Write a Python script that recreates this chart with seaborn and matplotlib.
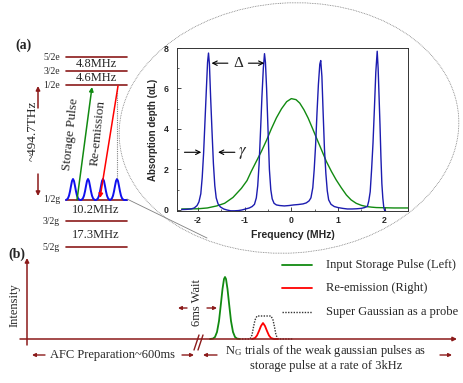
import matplotlib.pyplot as plt
import seaborn as sns
from matplotlib.patches import Ellipse
from matplotlib.ticker import MultipleLocator

sns.set_style("ticks")
plt.rcParams["mathtext.fontset"] = "stix"
plt.rcParams["axes.unicode_minus"] = False

SERIF = "Liberation Serif"
SANS = "Liberation Sans"
DARK_RED = "#8b1a1a"
BLUE = "#1c1cb0"
GREEN = "#118a11"
GREY = "#808080"

# ---- inset: AFC absorption spectrum ----
comb_freq = [-2.35, -2.25, -2.15, -2.08, -2.02, -1.98, -1.94, -1.91, -1.88, -1.85,
             -1.82, -1.795, -1.775, -1.755, -1.73, -1.70, -1.67, -1.64, -1.61, -1.57,
             -1.52, -1.45, -1.38, -1.30, -1.22, -1.14, -1.06, -0.98, -0.90, -0.84,
             -0.79, -0.75, -0.72, -0.69, -0.66, -0.63, -0.60, -0.575, -0.555, -0.53,
             -0.50, -0.47, -0.44, -0.41, -0.37, -0.32, -0.25, -0.15, -0.05, 0.05,
             0.15, 0.25, 0.32, 0.38, 0.42, 0.46, 0.49, 0.52, 0.55, 0.58,
             0.61, 0.63, 0.655, 0.68, 0.71, 0.74, 0.77, 0.80, 0.85, 0.92,
             1.00, 1.10, 1.20, 1.30, 1.40, 1.50, 1.57, 1.63, 1.66, 1.69,
             1.72, 1.75, 1.78, 1.81, 1.84, 1.86, 1.88, 1.90, 1.92, 1.94,
             1.96, 1.98, 2.00, 2.02]
comb_depth = [0.02, 0.03, 0.05, 0.10, 0.22, 0.40, 0.80, 1.6, 2.8, 4.4,
              6.0, 7.3, 7.75, 7.2, 5.6, 3.9, 2.3, 1.2, 0.60, 0.30,
              0.15, 0.05, 0.0, -0.04, -0.04, -0.03, 0.0, 0.05, 0.10, 0.17,
              0.28, 0.60, 1.2, 2.3, 3.9, 5.6, 7.0, 7.72, 7.3, 6.0,
              4.0, 2.0, 1.0, 0.55, 0.33, 0.25, 0.22, 0.20, 0.22, 0.25,
              0.27, 0.30, 0.35, 0.45, 0.60, 1.1, 2.0, 3.2, 4.8, 6.2,
              7.2, 7.38, 6.6, 4.9, 3.0, 1.8, 0.95, 0.50, 0.28, 0.17,
              0.12, 0.08, 0.05, 0.05, 0.06, 0.08, 0.12, 0.18, 0.45, 0.90,
              2.0, 3.3, 5.0, 6.8, 7.84, 7.0, 5.6, 4.2, 2.6, 1.3,
              0.60, 0.15, -0.03, -0.05]

pulse_freq = [-2.35, -2.0, -1.8, -1.6, -1.43, -1.25, -1.07, -0.95, -0.86, -0.75,
              -0.64, -0.53, -0.43, -0.32, -0.21, -0.10, 0.0, 0.10, 0.18, 0.27,
              0.36, 0.45, 0.54, 0.65, 0.75, 0.86, 0.96, 1.07, 1.18, 1.28,
              1.39, 1.50, 1.61, 1.72, 1.82, 2.0, 2.2, 2.5]
pulse_depth = [0.05, 0.06, 0.10, 0.20, 0.33, 0.62, 1.07, 1.45, 1.9, 2.4,
               2.9, 3.45, 4.0, 4.55, 5.0, 5.35, 5.5, 5.45, 5.28, 4.95,
               4.54, 4.05, 3.55, 2.95, 2.4, 1.9, 1.49, 1.1, 0.74, 0.50,
               0.33, 0.23, 0.17, 0.14, 0.12, 0.11, 0.10, 0.10]

# ---- level scheme ----
excited_levels = ["5/2e", "3/2e", "1/2e"]
ground_levels = ["1/2g", "3/2g", "5/2g"]
excited_split = ["4.8MHz", "4.6MHz"]
ground_split = ["10.2MHz", "17.3MHz"]
optical_label = "~494.7THz"

# one comb tooth of the prepared AFC (offset px, height px)
tooth_dx = [-7, -6, -5, -4, -3, -2, -1, 0, 1, 2, 3, 4, 5, 6, 7]
tooth_h = [0, 0.6, 1.8, 4.3, 8.6, 14, 19, 21, 19, 14, 8.6, 4.3, 1.8, 0.6, 0]

# ---- panel (b) pulse shapes (time offset px, intensity px) ----
input_dt = [-15, -12, -10, -8, -6, -4, -2.5, -1, 0, 1, 2.5, 4, 6, 8, 10, 12, 15]
input_h = [0, 0.4, 2, 7, 18, 36, 50, 60, 62, 60, 50, 36, 18, 7, 2, 0.4, 0]
echo_dt = [-11, -8, -6, -4, -2, 0, 2, 4, 6, 8, 11, 15]
echo_h = [0, 1, 3.5, 8, 13, 16, 13, 8, 3.5, 1, 0, 0]
probe_dt = [-22, -14, -12, -10.5, -9, -7, 7, 9, 10.5, 12, 14, 29]
probe_h = [0, 0, 4, 12, 19, 23, 23, 19, 12, 4, 0, 0]
legend_labels = ["Input Storage Pulse (Left)", "Re-emission (Right)",
                 "Super Gaussian as a probe"]

fig = plt.figure(figsize=(4.63, 3.83), dpi=100)
ax = fig.add_axes([0, 0, 1, 1])
ax.set_xlim(0, 463)
ax.set_ylim(383, 0)
ax.axis("off")


def arrow(x0, y0, x1, y1, color, lw=1.0, ms=7, style="-|>"):
    ax.annotate("", xy=(x1, y1), xytext=(x0, y0),
                arrowprops=dict(arrowstyle=style, color=color, lw=lw,
                                mutation_scale=ms, shrinkA=0, shrinkB=0))


# ---------------- panel (a): level diagram ----------------
ax.text(24, 45, "(a)", family=SERIF, fontsize=10, fontweight="bold", ha="center", va="center")
lx0, lx1 = 66, 127
for name, y in zip(excited_levels + ground_levels, [57, 71, 85, 200, 221, 247]):
    ax.plot([lx0, lx1], [y, y], color=DARK_RED, lw=1.2)
    ax.text(60, y, name, family=SERIF, fontsize=7, ha="right", va="center")
for lab, y in zip(excited_split + ground_split, [64, 78, 210, 235]):
    ax.text(96, y, lab, family=SERIF, fontsize=9, ha="center", va="center")

ax.text(33, 131, optical_label, family=SERIF, fontsize=9.5, rotation=90, ha="center", va="center")
arrow(38, 108, 38, 86, DARK_RED, lw=1.1, ms=6)
arrow(38, 174, 38, 196, DARK_RED, lw=1.1, ms=6)

arrow(77, 200, 92, 87, GREEN, lw=1.1, ms=6)
arrow(118, 86, 100, 198, "red", lw=1.1, ms=6)
ax.text(71, 134, "Storage Pulse", family=SERIF, fontsize=9.5, rotation=84, ha="center", va="center")
ax.text(98, 133, "Re-emission", family=SERIF, fontsize=9.5, rotation=84, ha="center", va="center")

comb_x, comb_y = [66], [200]
for c in [73, 88, 103, 117]:
    comb_x += [c + d for d in tooth_dx]
    comb_y += [200 - h for h in tooth_h]
comb_x.append(127)
comb_y.append(200)
ax.plot(comb_x, comb_y, color="#1010ee", lw=1.4)

# magnifier callout
ax.add_patch(Ellipse((289, 128), 340, 250, angle=-4, fill=False,
                     ls=(0, (1, 1)), lw=0.6, color=GREY))
ax.plot([117, 117], [86, 179], color=GREY, lw=0.8, ls=(0, (1, 1)))
ax.plot([127, 207], [199, 238], color=GREY, lw=0.6)

# ---------------- inset spectrum ----------------
ax_in = fig.add_axes([177 / 463, 1 - 211 / 383, 231 / 463, 163 / 383])
sns.lineplot(x=pulse_freq, y=pulse_depth, ax=ax_in, color=GREEN, lw=1.0, estimator=None)
sns.lineplot(x=comb_freq, y=comb_depth, ax=ax_in, color=BLUE, lw=1.0, estimator=None)
ax_in.set_xlim(-2.45, 2.5)
ax_in.set_ylim(-0.05, 8)
ax_in.set_xticks([-2, -1, 0, 1, 2])
ax_in.set_yticks([0, 2, 4, 6, 8])
ax_in.xaxis.set_minor_locator(MultipleLocator(0.5))
ax_in.yaxis.set_minor_locator(MultipleLocator(1))
ax_in.tick_params(which="major", direction="in", length=3, width=0.6, labelsize=6.3)
ax_in.tick_params(axis="y", which="major", pad=6)
ax_in.tick_params(axis="x", which="major", pad=3.5)
ax_in.tick_params(which="minor", direction="in", length=1.5, width=0.5)
plt.setp(ax_in.get_xticklabels() + ax_in.get_yticklabels(), fontweight="bold", family=SANS)
for sp in ax_in.spines.values():
    sp.set_linewidth(0.7)
    sp.set_color("#333333")
ax_in.set_xlabel("Frequency (MHz)", fontsize=7.5, fontweight="bold", family=SANS, labelpad=4)
ax_in.set_ylabel("Absorption depth (\u03b1L)", fontsize=7, fontweight="bold", family=SANS, labelpad=4)

kw = dict(arrowstyle="->", color="black", lw=0.8, mutation_scale=8, shrinkA=0, shrinkB=0)
ax_in.annotate("", xy=(-1.71, 7.25), xytext=(-1.36, 7.25), arrowprops=kw)
ax_in.annotate("", xy=(-0.58, 7.25), xytext=(-0.92, 7.25), arrowprops=kw)
ax_in.text(-1.14, 7.25, "\u0394", family=SERIF, fontsize=11, ha="center", va="center")
ax_in.annotate("", xy=(-1.93, 2.85), xytext=(-2.29, 2.85), arrowprops=kw)
ax_in.annotate("", xy=(-1.57, 2.85), xytext=(-1.21, 2.85), arrowprops=kw)
ax_in.text(-1.04, 2.85, r"$\gamma$", fontsize=12, ha="center", va="center")

# ---------------- panel (b): sequence ----------------
ax.text(17, 254, "(b)", family=SERIF, fontsize=10, fontweight="bold", ha="center", va="center")
base = 339
arrow(20, base, 457, base, DARK_RED, lw=1.1, ms=6)
arrow(27, 345, 27, 258, DARK_RED, lw=1.1, ms=6)
ax.text(15, 305, "Intensity", family=SERIF, fontsize=9, rotation=90, ha="center", va="center")
ax.plot([194, 199], [350, 335], color=DARK_RED, lw=1.0)
ax.plot([198, 203], [350, 335], color=DARK_RED, lw=1.0)

ax.plot([225 + d for d in input_dt], [base - h for h in input_h], color=GREEN, lw=1.3)
ax.plot([264 + d for d in probe_dt], [base - h for h in probe_h], color="#333333",
        lw=1.0, ls=(0, (1, 1)))
ax.plot([263 + d for d in echo_dt], [base - h for h in echo_h], color="red", lw=1.3)

ax.text(197, 303, "6ms Wait", family=SERIF, fontsize=9, rotation=90, ha="center", va="center")
arrow(187, 308, 178, 308, DARK_RED, lw=1.0, ms=5)
arrow(207, 308, 217, 308, DARK_RED, lw=1.0, ms=5)

for (lab, col, ls), y in zip(zip(legend_labels, [GREEN, "red", "#333333"],
                                 ["-", "-", (0, (1, 1))]), [265, 288, 312]):
    ax.plot([282, 312], [y, y], color=col, lw=1.3 if ls == "-" else 1.0, ls=ls)
    ax.text(326, y, lab, family=SERIF, fontsize=9, ha="left", va="center")

arrow(45, 355, 32, 355, DARK_RED, lw=1.0, ms=5)
ax.text(112, 355, "AFC Preparation~600ms", family=SERIF, fontsize=9, ha="center", va="center")
arrow(182, 355, 194, 355, DARK_RED, lw=1.0, ms=5)
arrow(217, 355, 203, 355, DARK_RED, lw=1.0, ms=5)
ax.text(326, 351, r"N$_\mathregular{G}$ trials of the weak gaussian pulses as", family=SERIF,
        fontsize=9, ha="center", va="center")
ax.text(326, 366, "storage pulse at a rate of 3kHz", family=SERIF, fontsize=9,
        ha="center", va="center")
arrow(440, 355, 452, 355, DARK_RED, lw=1.0, ms=5)

fig.savefig("out.png", dpi=100)
